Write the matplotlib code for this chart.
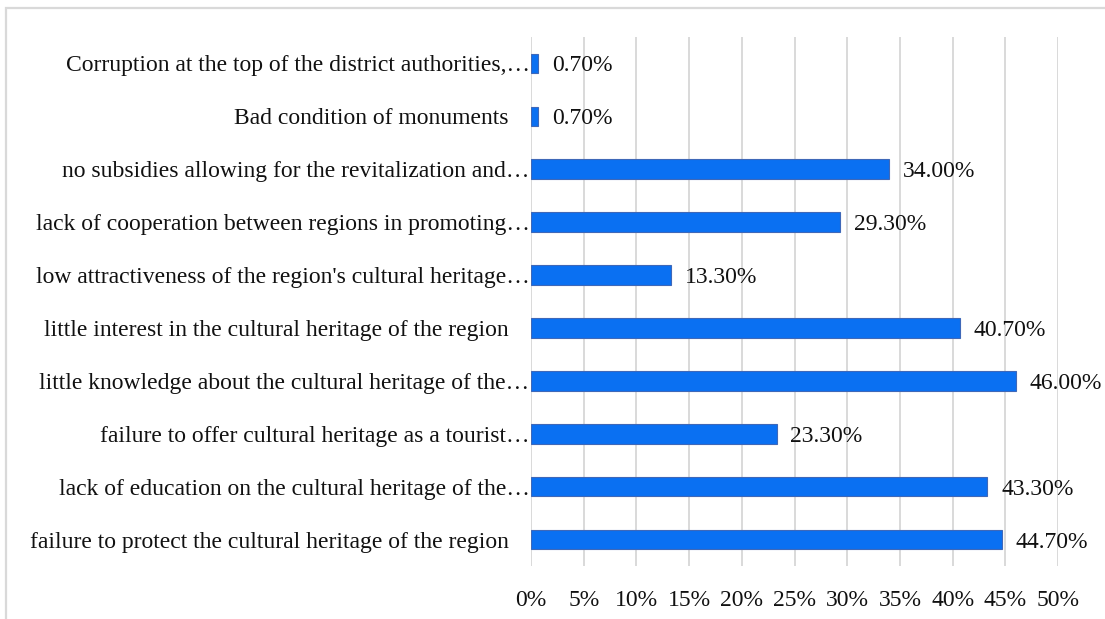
import matplotlib.pyplot as plt
from matplotlib.patches import Rectangle
from matplotlib.ticker import MultipleLocator, FuncFormatter
from matplotlib.transforms import ScaledTranslation

# categories listed bottom to top (barh draws first item at the bottom)
categories = [
    "failure to protect the cultural heritage of the region",
    "lack of education on the cultural heritage of the\u2026",
    "failure to offer cultural heritage as a tourist\u2026",
    "little knowledge about the cultural heritage of the\u2026",
    "little interest in the cultural heritage of the region",
    "low attractiveness of the region's cultural heritage\u2026",
    "lack of cooperation between regions in promoting\u2026",
    "no subsidies allowing for the revitalization and\u2026",
    "Bad condition of monuments",
    "Corruption at the top of the district authorities,\u2026",
]
shares = [44.7, 43.3, 23.3, 46.0, 40.7, 13.3, 29.3, 34.0, 0.7, 0.7]

plt.rcParams["font.family"] = ["Liberation Serif", "DejaVu Serif"]

W, H = 1105, 619
fig = plt.figure(figsize=(W / 100, H / 100), dpi=100)
ax = fig.add_axes([531 / W, 1 - 566 / H, (1058 - 531) / W, (566 - 37) / H])

# light outer frame, running off the right and bottom edges
fig.patches.append(Rectangle((6 / W, -0.05), 1.2, 1 - 8 / H + 0.05,
                             transform=fig.transFigure, fill=False,
                             edgecolor="#d9d9d9", linewidth=1.6, zorder=0))

y = range(len(categories))
ax.barh(y, shares, height=0.37, color="#0A70F2", edgecolor="#3f68b8",
        linewidth=0.8, zorder=3)

for yi, v in zip(y, shares):
    ax.text(v + 1.3, yi, f"{v:.2f}%", va="center_baseline", ha="left",
            fontsize=17, color="#111111")

ax.set_xlim(0, 50)
ax.set_ylim(-0.5, len(categories) - 0.5)
ax.xaxis.set_major_locator(MultipleLocator(5))
ax.xaxis.set_major_formatter(FuncFormatter(lambda v, _: f"{v:.0f}%"))
ax.grid(axis="x", color="#d9d9d9", linewidth=1.4, zorder=0)
ax.set_yticks(list(y))
ax.set_yticklabels(categories)
ax.tick_params(axis="both", length=0, labelsize=17, colors="#111111")
ax.tick_params(axis="x", pad=17)
ax.tick_params(axis="y", pad=1)
for s in ax.spines.values():
    s.set_visible(False)

# full-length labels sit further from the axis than the clipped ones
shift = ScaledTranslation(-21 / 100, 0, fig.dpi_scale_trans)
for lbl in ax.get_yticklabels():
    if not lbl.get_text().endswith("\u2026"):
        lbl.set_transform(lbl.get_transform() + shift)

fig.savefig("out.png", dpi=100)
